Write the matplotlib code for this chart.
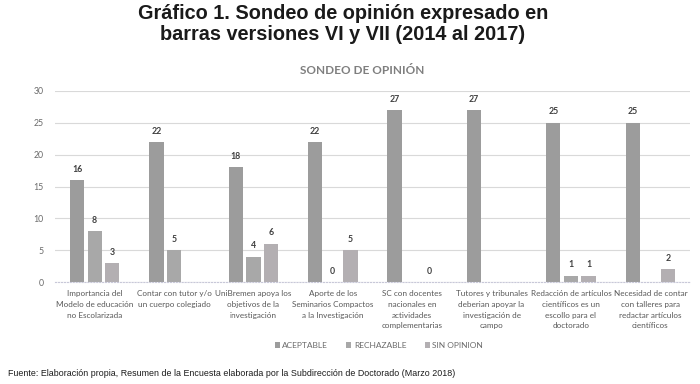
import numpy as np
import matplotlib.pyplot as plt

# datos del sondeo (NaN = sin barra)
categorias = [
    'Importancia del\nModelo de educación\nno Escolarizada',
    'Contar con tutor y/o\nun cuerpo colegiado',
    'UniBremen apoya los\nobjetivos de la\ninvestigación',
    'Aporte de los\nSeminarios Compactos\na la Investigación',
    'SC con docentes\nnacionales en\nactividades\ncomplementarias',
    'Tutores y tribunales\ndeberian apoyar la\ninvestigación de\ncampo',
    'Redacción de artículos\ncientíficos es un\nescollo para el\ndoctorado',
    'Necesidad de contar\ncon talleres para\nredactar artículos\ncientíficos',
]
aceptable = [16, 22, 18, 22, 27, 27, 25, 25]
rechazable = [8, 5, 4, 0, np.nan, np.nan, 1, np.nan]
sin_opinion = [3, np.nan, 6, 5, 0, np.nan, 1, 2]
series = ['ACEPTABLE', 'RECHAZABLE', 'SIN OPINION']
colores = ['#9c9c9c', '#a8a8a8', '#b3afb2']

plt.rcParams['font.family'] = ['Lato', 'DejaVu Sans']

fig = plt.figure(figsize=(7, 3.84), dpi=100)
ax = fig.add_axes([55 / 700, 1 - 282 / 384, 635 / 700, 191 / 384])

x = np.arange(len(categorias))
ancho = 0.18
paso = 0.222
for i, (vals, nombre, col) in enumerate(zip([aceptable, rechazable, sin_opinion], series, colores)):
    pos = x + (i - 1) * paso
    ax.bar(pos, vals, width=ancho, color=col, label=nombre, zorder=3)
    for p, v in zip(pos, vals):
        if not np.isnan(v):
            ax.text(p, v + 1.0, '%d' % v, ha='center', va='bottom', fontsize=6.3,
                    fontweight='bold', color='#404040')

ax.set_xlim(-0.5, len(categorias) - 0.5)
ax.set_ylim(0, 30)
ax.set_yticks(range(0, 31, 5))
ax.yaxis.grid(True, color='#d9d9d9', linewidth=0.8, zorder=0)
for s in ['top', 'right', 'left']:
    ax.spines[s].set_visible(False)
ax.spines['bottom'].set_color('#c8c8d8')
ax.spines['bottom'].set_linestyle(':')
ax.spines['bottom'].set_zorder(4)
ax.tick_params(axis='both', length=0, labelsize=6.3, labelcolor='#6b6b6b')
ax.tick_params(axis='y', pad=8)
ax.set_xticks(x)
ax.set_xticklabels(categorias, linespacing=1.6, fontsize=5.9, color='#595959')
ax.tick_params(axis='x', pad=6)

ax.legend(loc='upper center', bbox_to_anchor=(0.51, -0.275), ncol=3, frameon=False,
          fontsize=6.0, labelcolor='#6b6b6b', handlelength=0.6, handleheight=0.6,
          handletextpad=0.3, columnspacing=2.2)

fig.text(0.49, 0.99, 'Gráfico 1. Sondeo de opinión expresado en\nbarras versiones VI y VII (2014 al 2017)',
         ha='center', va='top', fontsize=14.3, fontweight='bold', color='#1a1a1a',
         family=['Liberation Sans', 'DejaVu Sans'], linespacing=1.15)
fig.text(362 / 700, 1 - 71 / 384, 'SONDEO DE OPINIÓN', ha='center', va='center', fontsize=8.5,
         fontweight='bold', color='#7f7f7f')
fig.text(8 / 700, 1 - 373 / 384,
         'Fuente: Elaboración propia, Resumen de la Encuesta elaborada por la Subdirección de Doctorado (Marzo 2018)',
         ha='left', va='center', fontsize=6.4, color='#1a1a1a',
         family=['Liberation Sans', 'DejaVu Sans'])

fig.savefig('out.png', dpi=100, facecolor='white')
